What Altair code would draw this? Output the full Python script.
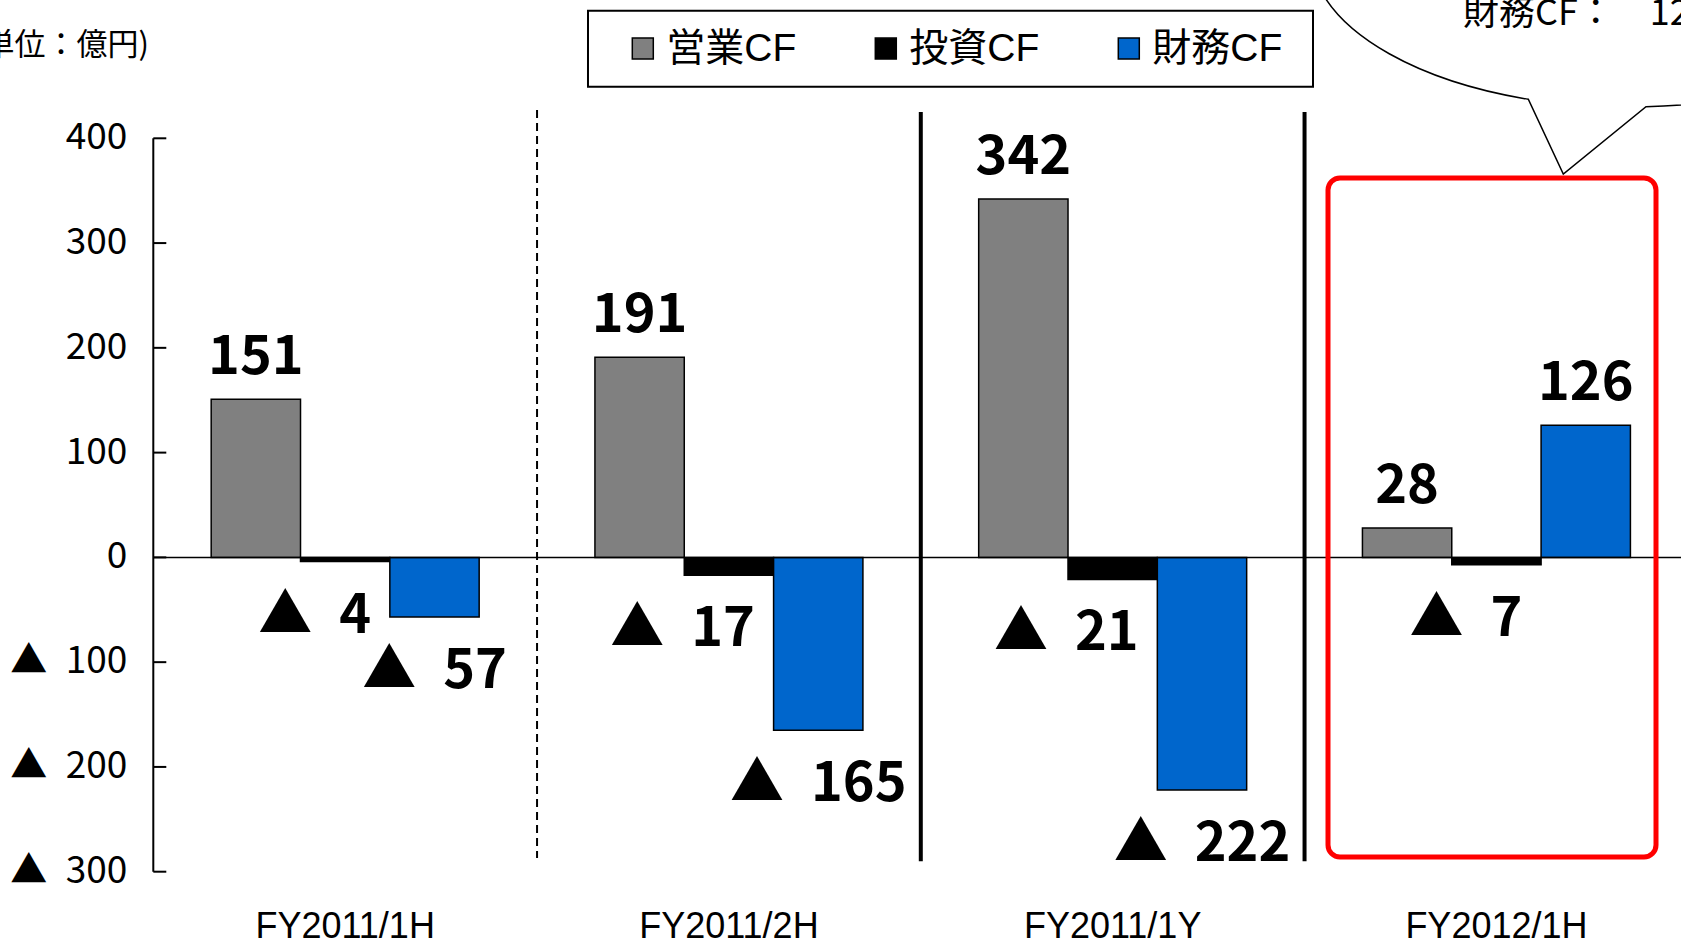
import altair as alt
import pandas as pd

# Cash-flow figures (億円) per period
categories = ["FY2011/1H", "FY2011/2H", "FY2011/1Y", "FY2012/1H"]
series = ["営業CF", "投資CF", "財務CF"]
operating_cf = [151, 191, 342, 28]
investing_cf = [-4, -17, -21, -7]
financing_cf = [-57, -165, -222, 126]
series_colors = ["#808080", "#000000", "#0066CC"]
y_ticks = [-300, -200, -100, 0, 100, 200, 300, 400]


def tri_label(v):
    # negative amounts are written with a leading triangle
    return f"▲\u2002{abs(v)}" if v < 0 else str(v)


rows = []
for name, values in zip(series, [operating_cf, investing_cf, financing_cf]):
    for cat, v in zip(categories, values):
        rows.append({"cat": cat, "series": name, "value": v, "label": tri_label(v)})
df = pd.DataFrame(rows)
tick_df = pd.DataFrame({"t": y_ticks, "label": [tri_label(t) for t in y_ticks]})
cat_df = pd.DataFrame({"cat": categories})

SANS = "Liberation Sans, Noto Sans CJK JP, sans-serif"
CJK = "Noto Sans CJK JP, sans-serif"

W, H = 1527.7, 733.4
PAD = {"left": 153.3, "top": 138.3, "right": 0, "bottom": 74.3}

x_scale = alt.Scale(range=[0, 1535], paddingInner=0, paddingOuter=0)
x_enc = alt.X("cat:N", sort=categories, scale=x_scale, axis=None)
xoff_enc = alt.XOffset("series:N", sort=series,
                       scale=alt.Scale(paddingInner=0, paddingOuter=0.648))
y_scale = alt.Scale(domain=[-300, 400], nice=False)
y_val = alt.Y("value:Q", scale=y_scale, axis=None)


def y_at(v):
    return alt.YDatum(v, axis=None)


base = alt.Chart(df)

bars = base.mark_bar(stroke="black", strokeWidth=1.5).encode(
    x=x_enc,
    xOffset=xoff_enc,
    y=y_val,
    color=alt.Color("series:N", sort=series,
                    scale=alt.Scale(domain=series, range=series_colors),
                    legend=alt.Legend(orient="none", legendX=470, legendY=-109.5,
                                      direction="horizontal", columns=3, title=None,
                                      symbolType="square", symbolSize=441,
                                      symbolStrokeColor="black", symbolStrokeWidth=1.5,
                                      symbolOpacity=1, labelFont=SANS,
                                      labelFontSize=39, labelColor="black",
                                      labelOffset=4, columnPadding=70, padding=0)),
)

label_font = dict(font=CJK, fontSize=54, fontWeight="bold", color="black",
                  baseline="alphabetic")

pos_labels = base.transform_filter("datum.value >= 0").mark_text(
    align="center", dy=-25, **label_font
).encode(x=x_enc, xOffset=xoff_enc, y=y_val, text="label:N")

neg_labels = base.transform_filter(
    "datum.value < 0 && datum.series != '投資CF'"
).mark_text(align="center", dy=71, **label_font).encode(
    x=x_enc, xOffset=xoff_enc, y=y_val, text="label:N")

inv_labels = base.transform_filter(
    "datum.value < 0 && datum.series == '投資CF'"
).mark_text(align="right", dx=26, dy=71, **label_font).encode(
    x=x_enc, xOffset=xoff_enc, y=y_val, text="label:N")

# y axis: spine, inward ticks and labels
one = alt.Chart(pd.DataFrame({"k": [0]}))
y_spine = one.mark_rule(color="black", strokeWidth=2).encode(
    x=alt.value(0), y=y_at(400), y2=alt.Y2Datum(-300))
tick_marks = alt.Chart(tick_df).mark_rule(color="black", strokeWidth=2).encode(
    y=alt.Y("t:Q", scale=y_scale, axis=None), x=alt.value(0), x2=alt.value(13))
tick_labels = alt.Chart(tick_df).mark_text(
    font=CJK, fontSize=37, color="black", align="right", baseline="middle"
).encode(y=alt.Y("t:Q", scale=y_scale, axis=None), x=alt.value(-26), text="label:N")

# period names under each group
cat_labels = alt.Chart(cat_df).mark_text(
    font=SANS, fontSize=36, color="black", align="center", baseline="alphabetic"
).encode(x=x_enc, y=alt.value(H + 66), text="cat:N")

# period separators
sep_df = pd.DataFrame({"cat": categories[1:]})
sep_x = alt.X("cat:N", sort=categories, bandPosition=0, scale=x_scale, axis=None)
dashed_sep = alt.Chart(sep_df).transform_filter(
    f"datum.cat == '{categories[1]}'"
).mark_rule(color="black", strokeWidth=2, strokeDash=[8, 5]).encode(
    x=sep_x, y=y_at(427), y2=alt.Y2Datum(-287))
solid_sep = alt.Chart(sep_df).transform_filter(
    f"datum.cat != '{categories[1]}'"
).mark_rule(color="black", strokeWidth=4).encode(
    x=sep_x, y=y_at(425), y2=alt.Y2Datum(-290))

zero_line = one.mark_rule(color="black", strokeWidth=1.5).encode(
    y=y_at(0), x=alt.value(0), x2=alt.value(W))

highlight = one.mark_rect(fillOpacity=0, stroke="#FF0000", strokeWidth=5,
                          cornerRadius=12).encode(
    x=alt.value(1174.7), x2=alt.value(1502.7), y=alt.value(39.7), y2=alt.value(718.7))

legend_box = one.mark_rect(fillOpacity=0, stroke="black", strokeWidth=2).encode(
    x=alt.value(434.7), x2=alt.value(1159.7), y=alt.value(-127.6), y2=alt.value(-51.5))

unit_text = one.mark_text(text="（単位：億円)", font=CJK, fontSize=31, color="black",
                          align="right", baseline="alphabetic").encode(
    x=alt.value(-4.3), y=alt.value(-83.3))

# speech balloon pointing at the highlighted period
balloon_path = ("M 1162.7 -158.3 A 320 157 0 0 0 1375 -39 L 1410 35.7 "
                "L 1492.7 -31.6 A 320 157 0 0 0 1546.7 -35.1")
balloon = one.mark_point(shape=balloon_path, size=4, filled=False, stroke="black",
                         strokeWidth=1.5, opacity=1).encode(
    x=alt.value(0), y=alt.value(0))
balloon_text = one.mark_text(text="財務CF：　126", font=CJK, fontSize=36, color="black",
                             align="left", baseline="alphabetic").encode(
    x=alt.value(1309.7), y=alt.value(-113.3))

chart = alt.layer(
    dashed_sep, solid_sep, bars, zero_line, y_spine, tick_marks, tick_labels,
    cat_labels, pos_labels, neg_labels, inv_labels,
    highlight, legend_box, unit_text, balloon, balloon_text,
).properties(
    width=W, height=H, padding=PAD, background="white",
    autosize=alt.AutoSizeParams(type="none"),
).configure_view(strokeWidth=0)

chart.save("out.html", embed_options={"renderer": "svg", "actions": False})
